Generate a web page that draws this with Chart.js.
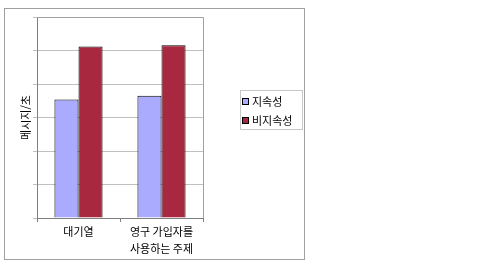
<!DOCTYPE html>
<html lang="ko">
<head>
<meta charset="UTF-8">
<title>메시지/초</title>
<script src="https://cdn.jsdelivr.net/npm/chart.js@4/dist/chart.umd.min.js"></script>
<style>
  html, body { margin: 0; padding: 0; background: #fff; }
  #wrap { position: relative; width: 488px; height: 271px; }
</style>
</head>
<body>
<div id="wrap"><canvas id="chart" width="488" height="271"></canvas></div>
<script>
// data
const categories = ['대기열', ['영구 가입자를', '사용하는 주제']];
const seriesNames = ['지속성', '비지속성'];
const persistent = [3.54, 3.65];
const nonPersistent = [5.12, 5.16];
const yTitle = '메시지/초';

const FONT = '"Noto Sans CJK KR", "Noto Sans", sans-serif';
const colors = ['#aaaaff', '#a8283f'];

// outer frame, plot border and legend box
const decor = {
  id: 'decor',
  beforeDraw(chart) {
    const c = chart.ctx;
    c.save();
    c.fillStyle = '#fff';
    c.fillRect(0, 0, chart.width, chart.height);
    c.strokeStyle = '#a0a0a0';
    c.lineWidth = 1;
    c.strokeRect(4.5, 8.5, 300, 251);
    c.restore();
  },
  afterDraw(chart) {
    const c = chart.ctx;
    const a = chart.chartArea;
    c.save();
    c.strokeStyle = '#a0a0a0';
    c.lineWidth = 1;
    c.beginPath();
    c.moveTo(a.left, Math.round(a.top) + 0.5);
    c.lineTo(Math.round(a.right) + 0.5, Math.round(a.top) + 0.5);
    c.lineTo(Math.round(a.right) + 0.5, a.bottom);
    c.stroke();

    // legend
    c.strokeStyle = '#c8c8c8';
    c.strokeRect(240.5, 90.5, 62, 39);
    c.font = '11px ' + FONT;
    c.textBaseline = 'middle';
    c.fillStyle = '#000';
    chart.data.datasets.forEach((ds, i) => {
      const y = 102 + i * 19;
      c.fillStyle = ds.backgroundColor;
      c.fillRect(242, y - 4, 7, 7);
      c.strokeStyle = '#000';
      c.strokeRect(242.5, y - 3.5, 6, 6);
      c.fillStyle = '#000';
      c.fillText(ds.label, 252, y);
    });
    c.restore();
  }
};

new Chart(document.getElementById('chart'), {
  type: 'bar',
  data: {
    labels: categories,
    datasets: [
      { label: seriesNames[0], data: persistent, backgroundColor: colors[0], borderColor: '#000', borderWidth: 1 },
      { label: seriesNames[1], data: nonPersistent, backgroundColor: colors[1], borderColor: '#000', borderWidth: 1 }
    ]
  },
  options: {
    responsive: false,
    animation: false,
    layout: { padding: { top: 17, right: 285, bottom: 11, left: 0 } },
    plugins: { legend: { display: false }, tooltip: { enabled: false } },
    datasets: { bar: { categoryPercentage: 0.58, barPercentage: 1 } },
    scales: {
      x: {
        grid: { display: true, drawOnChartArea: false, drawTicks: true, tickLength: 4, color: '#808080', offset: true },
        border: { color: '#808080' },
        ticks: { color: '#000', font: { family: FONT, size: 11, lineHeight: 1.5 }, padding: 2, maxRotation: 0 },
        afterFit(s) { s.height = 271 - 218 - 11; }
      },
      y: {
        min: 0, max: 6,
        grid: { color: '#c0c0c0', tickLength: 4, drawTicks: true },
        border: { color: '#808080' },
        ticks: { display: false, stepSize: 1 },
        title: { display: true, text: yTitle, color: '#000', font: { family: FONT, size: 11 }, padding: { top: 19, bottom: 0 } },
        afterFit(s) { s.width = 37; }
      }
    }
  },
  plugins: [decor]
});
</script>
</body>
</html>
